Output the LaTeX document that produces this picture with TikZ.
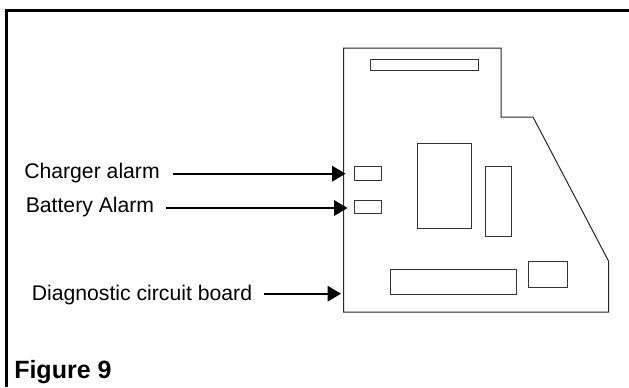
\documentclass[tikz,border=0pt]{standalone}
\usepackage{fontspec}
\setmainfont{Liberation Sans}
\usetikzlibrary{arrows.meta}
\tikzset{x=0.75pt,y=-0.75pt,
 board/.style={draw=black!85,line width=0.75pt,line join=miter},
 part/.style={draw=black!80,line width=0.75pt,rectangle,inner sep=0pt,outer sep=0pt,anchor=north west},
 lab/.style={font=\fontsize{15.9pt}{18pt}\selectfont,inner sep=0pt,anchor=base west},
 pointer/.style={line width=1.5pt,-{Triangle[length=10pt,width=11.5pt]}}}
\begin{document}
\begin{tikzpicture}
\useasboundingbox (0,0) rectangle (629,387);
\fill[white] (0,0) rectangle (629,387);
\draw[line width=2.25pt] (6.5,387) -- (6.5,10.5) -- (629,10.5);
\draw[board] (343.5,48) -- (501,48) -- (501,117) -- (533,117) -- (608.5,261) -- (608.5,312) -- (343.5,312) -- cycle;
\node[part,minimum width=81.2pt,minimum height=8.5pt] (p1) at (370.3,59.3) {};
\node[part,minimum width=40.5pt,minimum height=63.7pt] (p2) at (417.3,143.3) {};
\node[part,minimum width=19.5pt,minimum height=52.8pt] (p3) at (485.3,166.3) {};
\node[part,minimum width=20pt,minimum height=10.5pt] (ca) at (354.5,166.7) {};
\node[part,minimum width=20pt,minimum height=10pt] (ba) at (354.5,200.5) {};
\node[part,minimum width=94.7pt,minimum height=18.75pt] (p4) at (390,269) {};
\node[part,minimum width=29.6pt,minimum height=19.5pt] (p5) at (528,261.3) {};
\node[lab] (t1) at (24,178.3) {Charger alarm};
\node[lab] (t2) at (25.5,212.5) {Battery Alarm};
\node[lab] (t3) at (31.5,300) {Diagnostic circuit board};
\node[lab,font=\fontsize{18.75pt}{21pt}\bfseries\selectfont] (t4) at (14,378) {Figure 9};
\coordinate (e1) at (345.5,173.7);
\coordinate (e2) at (347.5,208);
\coordinate (e3) at (341,293.7);
\coordinate (s1) at (173,173.7);
\coordinate (s2) at (166,208);
\coordinate (s3) at (264,293.7);
\draw[pointer] (s1) -- (e1);
\draw[pointer] (s2) -- (e2);
\draw[pointer] (s3) -- (e3);
\end{tikzpicture}
\end{document}
